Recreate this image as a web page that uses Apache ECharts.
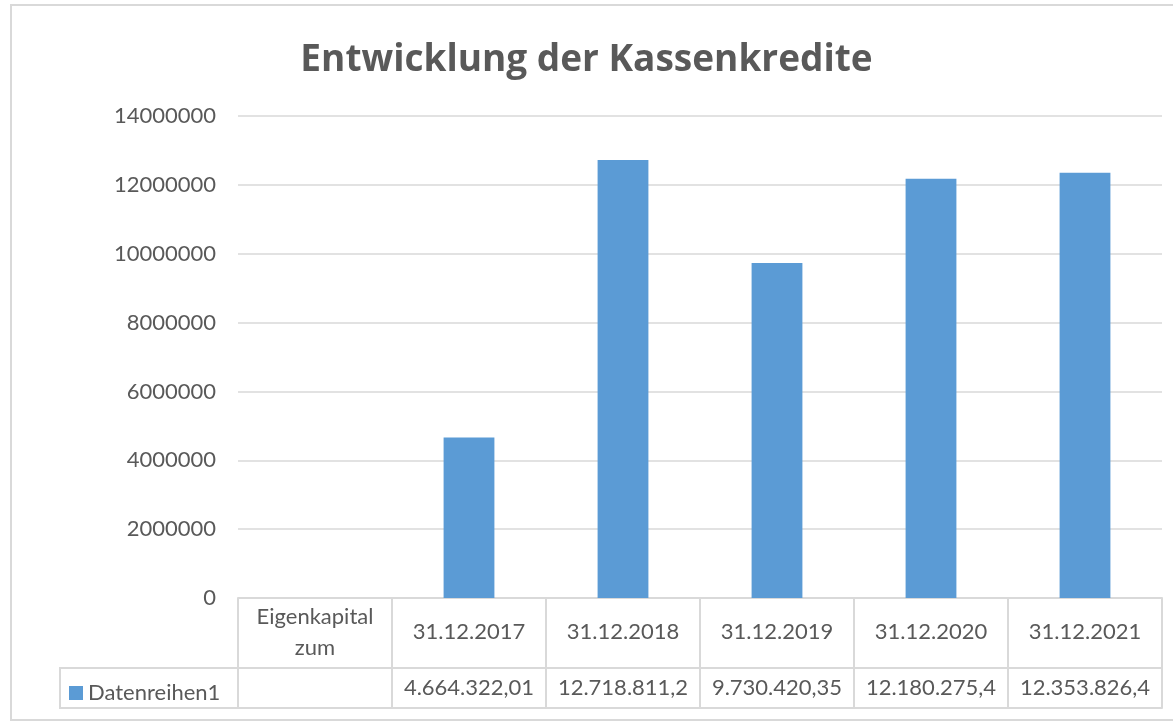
<!DOCTYPE html>
<html>
<head>
    <meta charset="UTF-8">
    <title>Entwicklung der Kassenkredite</title>
    <style type="text/css">
        *{ margin: 0; padding: 0; }
        body{ background: #fff; }
        #main{ width: 1173px; height: 723px; }
    </style>
    <script src="https://cdn.jsdelivr.net/npm/echarts@6/dist/echarts.min.js"></script>
</head>
<body>
<div id="main"></div>
<script type="text/javascript">
    // Daten
    var categories = ['Eigenkapital\nzum', '31.12.2017', '31.12.2018', '31.12.2019', '31.12.2020', '31.12.2021'];
    var values = [null, 4664322.01, 12718811.2, 9730420.35, 12180275.4, 12353826.4];
    var seriesName = 'Datenreihen1';
    var yMin = 0, yMax = 14000000, yStep = 2000000;

    // deutsches Zahlenformat, max. 2 Nachkommastellen
    function fmt(v) {
        if (v == null) return '';
        var s = (Math.round(v * 100) / 100).toString().split('.');
        var intPart = s[0].replace(/\B(?=(\d{3})+(?!\d))/g, '.');
        return s.length > 1 ? intPart + ',' + s[1] : intPart;
    }
    var valueLabels = values.map(fmt);

    var grey = '#d9d9d9';
    var textColor = '#595959';
    var font = 'Lato, "Open Sans", sans-serif';

    var myChart = echarts.init(document.getElementById('main'));

    var option = {
        animation: false,
        title: {
            text: 'Entwicklung der Kassenkredite',
            left: 'center',
            top: 37,
            textStyle: { fontSize: 37, fontWeight: 'bold', color: textColor, fontFamily: '"Open Sans", sans-serif' }
        },
        legend: {
            data: [seriesName],
            left: 64,
            top: 677,
            icon: 'rect',
            itemWidth: 14,
            itemHeight: 14,
            itemGap: 8,
            textStyle: { fontSize: 22, color: textColor, fontFamily: font }
        },
        grid: { left: 238, right: 11, top: 116, bottom: 125 },
        xAxis: [
            {
                type: 'category',
                data: categories,
                axisLine: { lineStyle: { color: grey, width: 2 } },
                axisTick: { show: true, length: 110, interval: 0, lineStyle: { color: grey, width: 2 } },
                axisLabel: {
                    interval: 0, margin: 34, verticalAlign: 'middle',
                    fontSize: 22, color: textColor, fontFamily: font, lineHeight: 31
                }
            },
            {
                type: 'category',
                data: valueLabels,
                position: 'bottom',
                offset: 70,
                axisLine: { lineStyle: { color: grey, width: 2 } },
                axisTick: { show: false },
                axisLabel: {
                    interval: 0, margin: 20, verticalAlign: 'middle',
                    fontSize: 22, color: textColor, fontFamily: font
                }
            },
            {
                type: 'category',
                data: categories,
                position: 'bottom',
                offset: 110,
                axisLine: { lineStyle: { color: grey, width: 2 } },
                axisTick: { show: false },
                axisLabel: { show: false }
            }
        ],
        yAxis: {
            type: 'value',
            min: yMin,
            max: yMax,
            interval: yStep,
            axisLine: { show: false },
            axisTick: { show: false },
            splitLine: { lineStyle: { color: grey, width: 1.5 } },
            axisLabel: {
                margin: 22, fontSize: 22, color: textColor, fontFamily: font,
                formatter: function (v) { return String(v); }
            }
        },
        series: [
            {
                name: seriesName,
                type: 'bar',
                data: values,
                barWidth: '33%',
                itemStyle: { color: '#5b9bd5' }
            }
        ],
        graphic: [
            // Rahmen des Diagramms
            { type: 'rect', silent: true, shape: { x: 11, y: 5, width: 1180, height: 715 },
              style: { fill: 'none', stroke: grey, lineWidth: 2 } },
            // Zelle der Legende in der Datentabelle
            { type: 'rect', silent: true, shape: { x: 60, y: 668, width: 178, height: 40 },
              style: { fill: 'none', stroke: grey, lineWidth: 2 } }
        ]
    };
    myChart.setOption(option);
</script>
</body>
</html>
